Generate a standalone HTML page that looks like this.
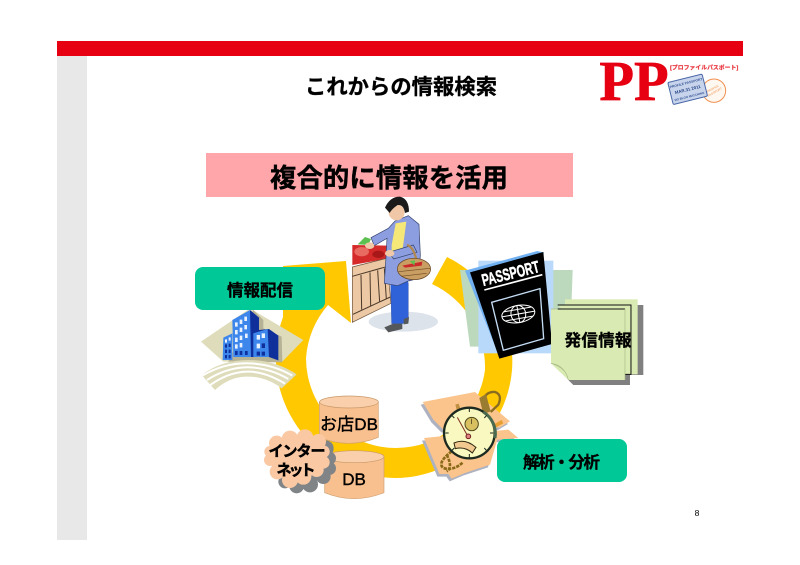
<!DOCTYPE html>
<html><head><meta charset="utf-8"><style>
html,body{margin:0;padding:0;background:#fff}
svg{display:block}
text{font-family:"Liberation Sans","Noto Sans CJK JP",sans-serif}
</style></head><body>
<svg width="800" height="565" viewBox="0 0 800 565" xmlns="http://www.w3.org/2000/svg">
<rect width="800" height="565" fill="#fff"/>
<rect x="57" y="56" width="30" height="484" fill="#e8e8e8"/>
<rect x="57" y="41" width="686" height="15" fill="#e60012"/>
<text x="401" y="94" font-size="21.3" font-weight="700" text-anchor="middle" fill="#000" stroke="#000" stroke-width=".35" textLength="192">これからの情報検索</text>

<g transform="translate(590,50) scale(0.3333)">
<text x="28" y="150" font-size="168" font-weight="700" style="font-family:'Liberation Serif',serif" fill="#e60012" stroke="#e60012" stroke-width="2" textLength="208" lengthAdjust="spacingAndGlyphs">PP</text>
<text x="240" y="58" font-size="17" font-weight="700" fill="#e8303a" stroke="#e8303a" stroke-width=".5" textLength="205" lengthAdjust="spacingAndGlyphs">[プロファイルパスポート]</text>
<circle cx="372" cy="122" r="35" fill="#fff8f0" stroke="#f09050" stroke-width="3"/>
<text x="372" y="118" font-size="9" fill="#f09050" text-anchor="middle" transform="rotate(-30 372 122)">PROFILE</text>
<text x="372" y="130" font-size="9" fill="#f09050" text-anchor="middle" transform="rotate(-30 372 122)">PASSPORT</text>
<g transform="rotate(-14 293 118)">
<rect x="240" y="84" width="106" height="68" rx="4" fill="#c8d4ec" stroke="#4a68a8" stroke-width="3"/>
<text x="293" y="102" font-size="10" font-weight="700" fill="#3a5898" text-anchor="middle">PROFILE PASSPORT</text>
<text x="293" y="123" font-size="13" font-weight="700" fill="#2a4888" text-anchor="middle">MAR.31 2011</text>
<text x="293" y="143" font-size="9" font-weight="700" fill="#3a5898" text-anchor="middle">DO BLOG MATCHING</text>
</g>
</g>

<rect x="206" y="153" width="367" height="44" fill="#ffa6ab"/>
<text x="389" y="187" font-size="26.4" font-weight="700" text-anchor="middle" fill="#000" stroke="#000" stroke-width=".4" textLength="238">複合的に情報を活用</text>

<path d="M447 257A116 116 0 0 1 512 370A118 118 0 0 1 396 478A120 120 0 0 1 283 317L283 266L346 261L351 323L328 305A90 90 0 0 0 306 358A90 90 0 0 0 396 448A90 90 0 0 0 485 370A92 92 0 0 0 432 284Z" fill="#ffc800"/>

<!-- woman -->
<g transform="translate(345,195) scale(0.3333)">
<ellipse cx="175" cy="380" rx="104" ry="30" fill="#dde3ea"/>
<path d="M22 150L128 152L132 190L22 210Z" fill="#d42a2a"/>
<ellipse cx="50" cy="170" rx="22" ry="14" fill="#e86a60"/>
<ellipse cx="100" cy="178" rx="18" ry="11" fill="#a81818"/>
<path d="M38 148L60 126L78 132L70 150Z" fill="#5cc050"/>
<path d="M22 216L125 190L138 325L22 382Z" fill="#ecc8a4" stroke="#6a5038" stroke-width="2"/>
<path d="M22 244L128 214M24 358L136 306M48 240L50 344M75 232L77 332M98 226L104 322M118 220L124 312" stroke="#4a3828" stroke-width="3" fill="none"/>
<path d="M135 185L166 185L190 265L190 380L172 386L140 386Z" fill="#2f62d8" stroke="#1a3a90" stroke-width="1"/>
<path d="M118 397L145 386L172 386L172 402L130 412Z" fill="#55585a"/>
<path d="M176 372L192 366L190 386L176 388Z" fill="#55585a"/>
<path d="M150 78L190 62L222 88L226 180L222 250L190 258L158 272L118 265L124 170L126 130L88 152L78 128L130 100Z" fill="#8c9ee0" stroke="#33416c" stroke-width="2"/>
<path d="M152 85L184 80L172 170L140 190L140 150Z" fill="#f6e878"/>
<path d="M205 150L130 172L146 192L216 172Z" fill="#8c9ee0" stroke="#33416c" stroke-width="2"/>
<ellipse cx="155" cy="52" rx="24" ry="24" fill="#f0c8a8"/>
<path d="M120 38Q135 5 165 5Q192 12 192 50L180 54Q176 28 158 30Q140 42 134 54Z" fill="#1a1a1a"/>
<path d="M186 150Q208 155 218 212" fill="none" stroke="#b08850" stroke-width="7"/>
<ellipse cx="207" cy="222" rx="50" ry="32" fill="#c99e62" stroke="#604020" stroke-width="2"/>
<path d="M172 212L232 200L230 212L180 218Z" fill="#cc2a2a"/>
<path d="M195 198L210 196L208 212Z" fill="#5cc050"/>
<path d="M160 230L255 220M168 244L245 235" stroke="#704c24" stroke-width="2"/>
<ellipse cx="134" cy="175" rx="14" ry="10" fill="#f0c8a8"/>
<ellipse cx="74" cy="152" rx="14" ry="10" fill="#f0c8a8"/>
</g>

<!-- passport and document -->
<g transform="translate(450,240) scale(0.3333)">
<path d="M30 90L368 90L360 320L60 320Z" fill="#bdd9bd"/>
<rect x="85" y="62" width="225" height="278" fill="#b9d9fb"/>
<path d="M45 92L262 33L282 38L150 355Z" fill="#70b0f0"/>
<path d="M60 97L280 36L306 312L148 356Z" fill="#000"/>
<text x="0" y="0" font-size="50" font-weight="700" fill="#fff" stroke="#fff" stroke-width="1.5" transform="translate(100,138) rotate(-14)" textLength="176" lengthAdjust="spacingAndGlyphs">PASSPORT</text>
<path d="M103 150L277 104" stroke="#fff" stroke-width="5"/>
<path d="M125 187L270 146L281 296L160 331Z" fill="none" stroke="#c4dcf4" stroke-width="4"/>
<g transform="rotate(-10 205 222)" fill="none" stroke="#fff" stroke-width="3">
<ellipse cx="205" cy="222" rx="50" ry="26"/><ellipse cx="205" cy="222" rx="22" ry="26"/>
<path d="M155 222H255M205 196V248M163 208H247M163 236H247"/>
</g>
<path d="M355 420L370 435H540V405H580V195H500V420Z" fill="#808080"/>
<rect x="345" y="178" width="218" height="225" fill="#d9ebb2"/>
<path d="M323 195H543V403H525" fill="#d9ebb2" stroke="#111" stroke-width="3"/>
<path d="M303 207H525V420H355L303 370Z" fill="#d9ebb2"/>
<path d="M323 207H525" stroke="#111" stroke-width="3"/>
<path d="M303 207H323" stroke="#a8b888" stroke-width="2"/>
<path d="M525 207V420" stroke="#a8b888" stroke-width="2"/>
<path d="M303 370Q345 375 355 420Q350 385 303 370Z" fill="#b8c890" stroke="#98a878"/>
</g>
<text x="598" y="346" font-size="16.6" font-weight="700" text-anchor="middle" fill="#000" stroke="#000" stroke-width=".3" textLength="67">発信情報</text>

<!-- building -->
<g transform="translate(195,305) scale(0.3333)">
<path d="M18 110L165 10L325 105L262 170L85 170Z" fill="#dedcba"/>
<path d="M175 15L205 45L205 70L260 95L262 172L100 170Z" fill="#b5b296"/>
<path d="M165 15L192 38V75L222 72L250 92V166L222 156H165Z" fill="#0f2f9a"/>
<path d="M112 45L165 15L168 156H115Z" fill="#3d86ec"/>
<path d="M85 98L112 85V165H83Z" fill="#3d86ec"/>
<path d="M175 85L218 72L222 156H175Z" fill="#3d86ec"/>
<g fill="#eaf2ff">
<path d="M120 52h8v13h-8zM134 44h8v13h-8zM148 35h8v13h-8zM120 75h8v13h-8zM134 68h8v13h-8zM148 60h8v13h-8zM120 98h8v13h-8zM134 92h8v13h-8zM150 86h8v13h-8zM120 118h8v13h-8zM134 114h8v13h-8zM185 90h10v14h-10zM200 85h10v14h-10zM185 116h10v14h-10zM90 103h6v10h-6zM101 97h6v10h-6z"/>
</g>
<path d="M120 138h8v12h-8zM134 138h8v12h-8zM150 138h8v12h-8zM200 115h10v14h-10zM185 140h10v12h-10zM200 140h10v12h-10zM90 118h6v10h-6zM101 116h6v10h-6zM90 134h6v10h-6zM101 134h6v10h-6zM90 150h6v10h-6zM101 150h6v10h-6z" fill="#0f2f9a"/>
<path d="M20 210Q80 165 160 165Q240 165 305 208L260 250Q210 212 150 215Q100 218 60 255Z" fill="#dedcba"/>
<path d="M22 212Q90 172 165 175Q235 178 292 212M36 225Q100 185 165 187Q225 190 280 222M46 240Q105 198 165 200Q215 202 270 236" fill="none" stroke="#fff" stroke-width="6"/>
</g>
<rect x="195" y="267" width="130" height="43" rx="8" fill="#00c896"/>
<text x="260" y="296" font-size="16.5" font-weight="700" text-anchor="middle" fill="#000" stroke="#000" stroke-width=".3" textLength="66">情報配信</text>

<!-- DB -->
<g transform="translate(250,380) scale(0.3333)">
<path d="M208 66V172Q297 208 385 172V66Z" fill="#f9c08f" stroke="#cfa070" stroke-width="2"/>
<ellipse cx="297" cy="66" rx="88" ry="18" fill="#fad0ac" stroke="#c89868" stroke-width="2"/>
<path d="M224 230V338Q313 374 402 338V230Z" fill="#f9c08f" stroke="#cfa070" stroke-width="2"/>
<ellipse cx="313" cy="230" rx="89" ry="18" fill="#fad0ac" stroke="#c89868" stroke-width="2"/>
</g>
<text x="349" y="430" font-size="17" text-anchor="middle" fill="#000" stroke="#000" stroke-width=".4" textLength="58">お店DB</text>
<text x="354" y="485" font-size="17" text-anchor="middle" fill="#000" stroke="#000" stroke-width=".4">DB</text>

<!-- cloud -->
<g transform="translate(260,425) scale(0.3333)">
<g fill="#808487">
<circle cx="197" cy="70" r="24"/><circle cx="208" cy="100" r="20"/><circle cx="208" cy="130" r="20"/><circle cx="190" cy="155" r="22"/><circle cx="150" cy="178" r="24"/><circle cx="110" cy="183" r="22"/><circle cx="75" cy="170" r="20"/><ellipse cx="130" cy="120" rx="80" ry="55"/>
</g>
<g fill="#fac9a4">
<circle cx="50" cy="55" r="23"/><circle cx="90" cy="42" r="25"/><circle cx="135" cy="38" r="25"/><circle cx="175" cy="50" r="23"/><circle cx="190" cy="80" r="19"/><circle cx="190" cy="112" r="19"/><circle cx="170" cy="135" r="21"/><circle cx="130" cy="155" r="24"/><circle cx="90" cy="165" r="24"/><circle cx="52" cy="140" r="23"/><circle cx="30" cy="105" r="18"/><circle cx="30" cy="80" r="17"/><ellipse cx="110" cy="100" rx="80" ry="62"/>
</g>
</g>
<text x="297" y="456" font-size="15" font-weight="700" text-anchor="middle" fill="#000" stroke="#000" stroke-width=".5" textLength="57">インター</text>
<text x="296" y="475" font-size="15" font-weight="700" text-anchor="middle" fill="#000" stroke="#000" stroke-width=".5" textLength="39">ネット</text>

<!-- stopwatch -->
<g transform="translate(420,388) scale(0.3333)">
<path d="M2 50L159 20L264 108L234 126L64 133L34 103Z" fill="#aeb2c0"/>
<path d="M8 42L165 12L270 100L240 118L70 125L40 95Z" fill="#fac48c"/>
<path d="M6 158L259 133L289 158L226 163L204 238L129 263L89 280L79 266L52 266Z" fill="#aeb2c0"/>
<path d="M12 150L265 125L295 150L232 155L210 230L135 255L95 272L85 258L58 258Z" fill="#fac48c"/>
<path d="M185 45Q195 10 225 12Q248 20 235 50L212 72" fill="none" stroke="#8a6c20" stroke-width="7"/>
<path d="M178 30L198 18L212 70L190 78Z" fill="#9a7c30"/>
<path d="M205 118L245 96L250 106L215 125Z" fill="#e8a030"/>
<path d="M106 50L116 47L124 70L112 72Z" fill="#c09040"/>
<path d="M95 190Q50 225 70 240Q100 250 130 222M80 200Q100 240 80 250" fill="none" stroke="#8a6a18" stroke-width="8" stroke-dasharray="10 3"/>
<circle cx="148" cy="135" r="76" fill="#f8f8c0" stroke="#1c2a20" stroke-width="7"/>
<path d="M190 72A76 76 0 0 1 225 150" fill="none" stroke="#4a6a50" stroke-width="9"/>
<circle cx="155" cy="108" r="20" fill="#d8c060" stroke="#504820" stroke-width="3"/>
<path d="M155 92V108" stroke="#302810" stroke-width="2"/>
<path d="M112 88L142 142" stroke="#803020" stroke-width="3"/>
<circle cx="145" cy="145" r="7" fill="#e08080" stroke="#702020" stroke-width="3"/>
<path d="M102 165Q135 150 168 178L157 195Q135 175 106 182Z" fill="#f0c890" stroke="#302810" stroke-width="3"/>
<path d="M148 62V72M148 198V208M76 135H86M210 135H220M95 82L103 90M200 82L193 90M95 188L103 180M200 188L193 180" stroke="#1c2a20" stroke-width="3"/>
</g>
<rect x="497" y="439" width="130" height="43" rx="8" fill="#00c896"/>
<text x="561.500" y="468" font-size="16.500" font-weight="700" text-anchor="middle" fill="#000" stroke="#000" stroke-width=".3" textLength="77">解析・分析</text>

<text x="697" y="516" font-size="8.500" text-anchor="middle" fill="#000">8</text>
</svg>
</body></html>
